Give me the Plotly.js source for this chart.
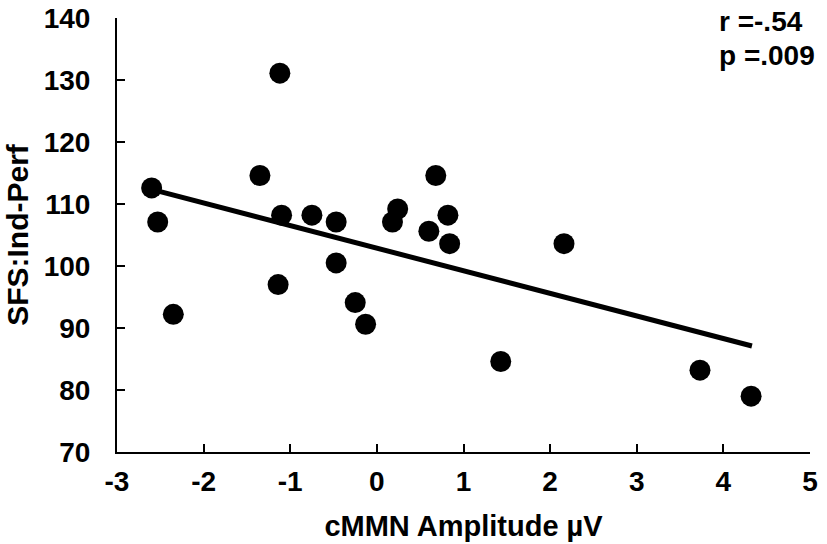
<!DOCTYPE html>
<html>
<head>
<meta charset="utf-8">
<script src="https://cdn.plot.ly/plotly-3.0.1.min.js"></script>
<style>html,body{margin:0;padding:0;background:#fff;}#chart{width:827px;height:544px;}</style>
</head>
<body>
<div id="chart"></div>
<script>
const amplitude = [-2.60, -2.53, -2.35, -1.35, -1.12, -1.10, -1.14, -0.75, -0.47, -0.47, -0.25, -0.13, 0.18, 0.24, 0.60, 0.68, 0.82, 0.84, 1.43, 2.16, 3.73, 4.32];
const sfsScore  = [112.6, 107.1, 92.2, 114.6, 131.1, 108.2, 97.0, 108.2, 107.1, 100.5, 94.1, 90.6, 107.1, 109.2, 105.6, 114.6, 108.2, 103.6, 84.6, 103.6, 83.2, 79.0];
const fitX = [-2.60, 4.33];
const fitY = [112.35, 87.1];
const xTicks = [-3, -2, -1, 0, 1, 2, 3, 4, 5];
const yTicks = [70, 80, 90, 100, 110, 120, 130, 140];
const statR = 'r =-.54';
const statP = 'p =.009';

const font = 'Arial, "Liberation Sans", sans-serif';

const traces = [
  {x: amplitude, y: sfsScore, type: 'scatter', mode: 'markers',
   marker: {color: '#000', size: 21}, hoverinfo: 'x+y'},
  {x: fitX, y: fitY, type: 'scatter', mode: 'lines',
   line: {color: '#000', width: 5}, hoverinfo: 'skip'}
];

const layout = {
  width: 827, height: 544,
  margin: {l: 117, r: 17, t: 18, b: 92},
  paper_bgcolor: '#fff', plot_bgcolor: '#fff',
  showlegend: false,
  font: {family: font, color: '#000'},
  xaxis: {
    range: [-3, 5], tickvals: xTicks, ticktext: xTicks.map(String),
    showgrid: false, zeroline: false, showline: true, linecolor: '#000', linewidth: 2,
    ticks: 'inside', ticklen: 8, tickwidth: 2, tickcolor: '#000',
    ticklabelposition: 'outside', ticklabelstandoff: 3,
    tickfont: {family: font, size: 28, color: '#000', weight: 'bold'},
    title: {text: '<b>cMMN Amplitude µV</b>', font: {family: font, size: 29, color: '#000'}, standoff: 20}
  },
  yaxis: {
    range: [70, 140], tickvals: yTicks, ticktext: yTicks.map(String),
    showgrid: false, zeroline: false, showline: true, linecolor: '#000', linewidth: 2,
    ticks: 'inside', ticklen: 8, tickwidth: 2, tickcolor: '#000',
    ticklabelposition: 'outside', ticklabelstandoff: 19,
    tickfont: {family: font, size: 28, color: '#000', weight: 'bold'},
    title: {text: '<b>SFS:Ind-Perf</b>', font: {family: font, size: 30, color: '#000'}, standoff: 6}
  },
  annotations: [
    {text: '<b>' + statR + '</b>', xref: 'paper', yref: 'paper', x: 0.866, y: 1.032, xanchor: 'left', yanchor: 'top',
     showarrow: false, font: {family: font, size: 28, color: '#000'}, align: 'left'},
    {text: '<b>' + statP + '</b>', xref: 'paper', yref: 'paper', x: 0.866, y: 0.955, xanchor: 'left', yanchor: 'top',
     showarrow: false, font: {family: font, size: 28, color: '#000'}, align: 'left'}
  ]
};

Plotly.newPlot('chart', traces, layout, {displayModeBar: false, staticPlot: true});
</script>
</body>
</html>
